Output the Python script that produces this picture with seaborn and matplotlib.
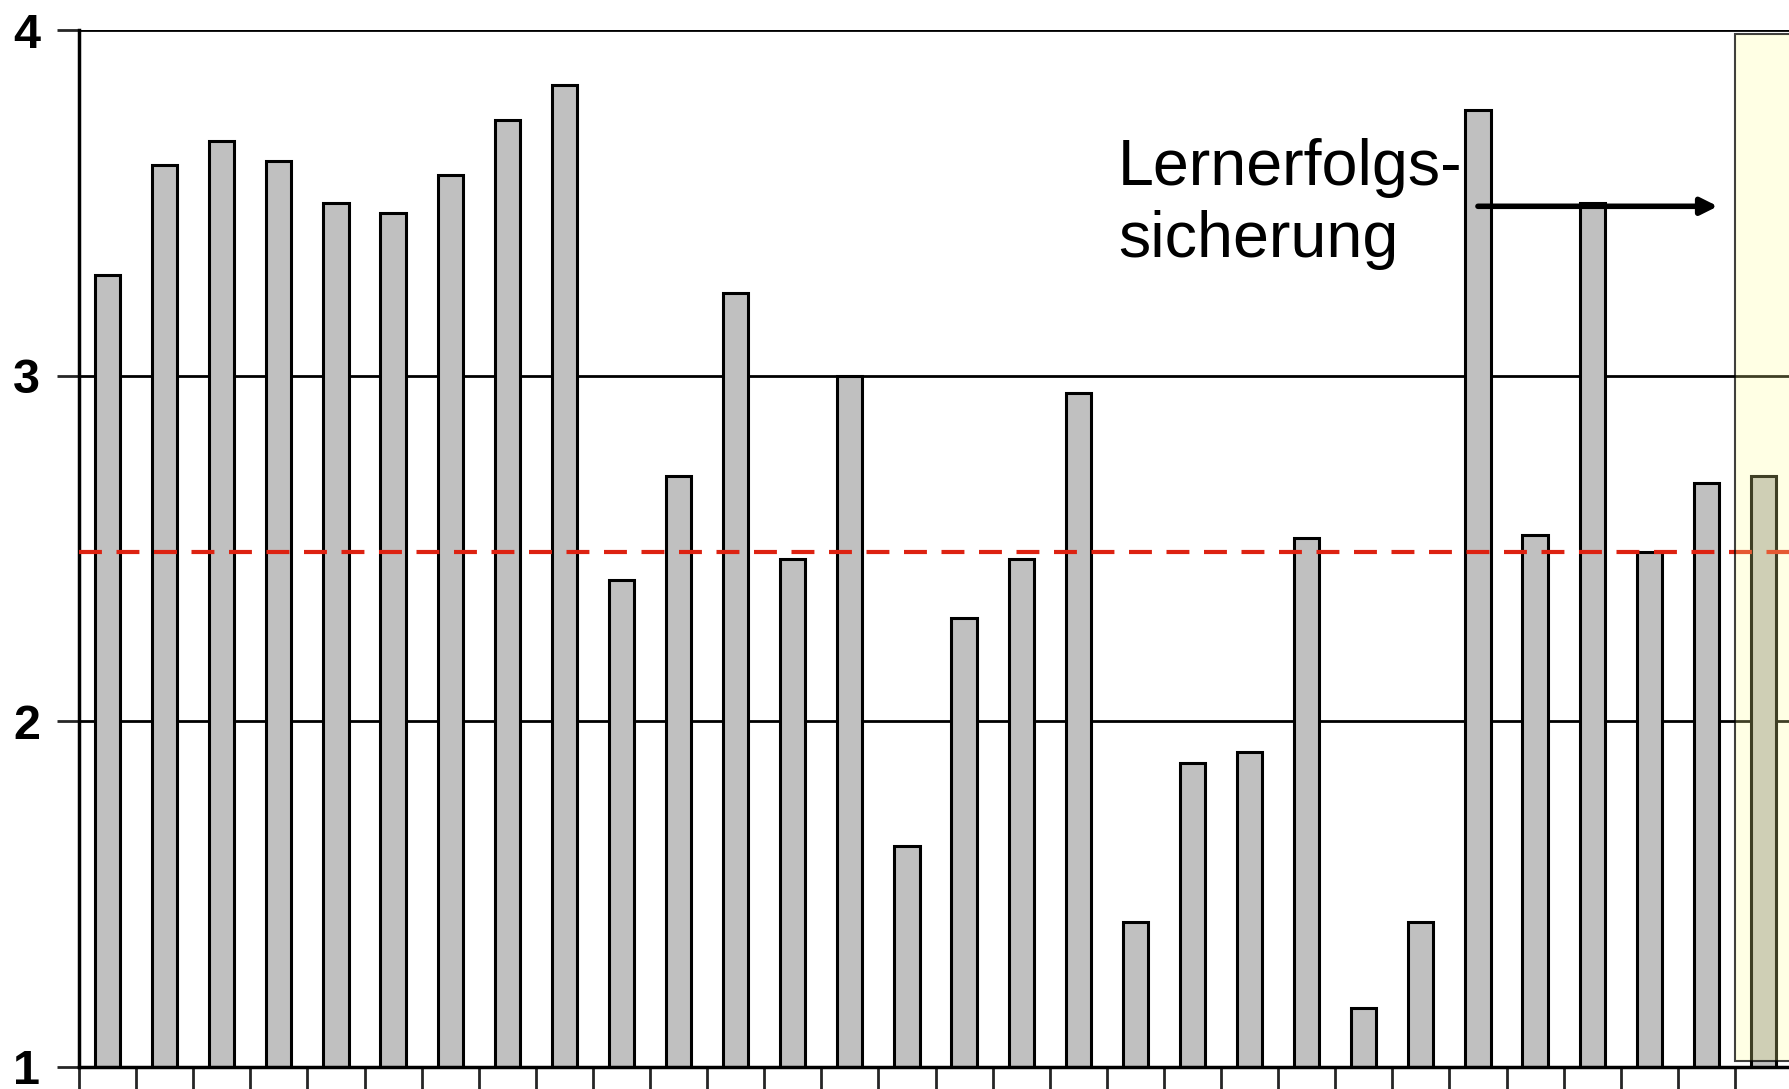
import numpy as np
import pandas as pd
import matplotlib
matplotlib.use("Agg")
import matplotlib.pyplot as plt
import seaborn as sns
from matplotlib.patches import Rectangle

sns.set_style("white")
plt.rcParams['font.family'] = ['Liberation Sans', 'DejaVu Sans']

# data
items = [str(i) for i in range(1, 31)]
scores = [3.29, 3.61, 3.68, 3.62, 3.50, 3.47, 3.58, 3.74, 3.84, 2.41,
          2.71, 3.24, 2.47, 3.00, 1.64, 2.30, 2.47, 2.95, 1.42, 1.88,
          1.91, 2.53, 1.17, 1.42, 3.77, 2.54, 3.50, 2.49, 2.69, 2.71]
ref_value = 2.49
y_ticks = [1, 2, 3, 4]
note_lines = ["Lernerfolgs-", "sicherung"]

df = pd.DataFrame({'item': items, 'score': scores})

fig = plt.figure(figsize=(17.89, 10.89), dpi=100)
ax = fig.add_axes([79 / 1789, 22 / 1089, 1713 / 1789, 1037 / 1089])

for y in y_ticks[1:]:
    ax.axhline(y, color='black', lw=2, zorder=0)

sns.barplot(data=df, x='item', y='score', color='#C0C0C0', edgecolor='black',
            linewidth=2.2, width=0.44, saturation=1, ax=ax, zorder=2)

ax.axhline(ref_value, color='#DD2211', lw=3, ls=(0, (5.5, 3.5)), zorder=3)

ax.set_ylim(1, 4)
ax.set_xlim(-0.5, 29.5)
ax.set_yticks(y_ticks)
ax.set_yticklabels([str(t) for t in y_ticks], fontsize=35, fontweight='bold',
                   color='black')
ax.set_xticks(np.arange(-0.5, 30, 1))
ax.set_xticklabels([])
ax.tick_params(axis='y', direction='out', length=16, width=2, pad=12, left=True)
ax.tick_params(axis='x', direction='out', length=24, width=2, bottom=True)
ax.set_xlabel('')
ax.set_ylabel('')
for side in ['top', 'right']:
    ax.spines[side].set_visible(False)
for side in ['left', 'bottom']:
    ax.spines[side].set_linewidth(2.5)
    ax.spines[side].set_color('black')

# highlighted last section
ax.add_patch(Rectangle((28.5, 1.018), 2.0, 2.97, facecolor=(1, 1, 0.59, 0.25),
                       edgecolor=(0, 0, 0, 0.75), lw=1.5, zorder=4, clip_on=False))

ax.text(17.7, 3.552, note_lines[0], fontsize=46.5, va='baseline', ha='left',
        color='black', zorder=5)
ax.text(17.7, 3.343, note_lines[1], fontsize=46.5, va='baseline', ha='left',
        color='black', zorder=5)
ax.annotate('', xy=(28.2, 3.49), xytext=(24.0, 3.49),
            arrowprops=dict(arrowstyle='-|>,head_length=1.0,head_width=0.5',
                            color='black', lw=4, shrinkA=0, shrinkB=0), zorder=5)

fig.savefig('out.png', dpi=100)
